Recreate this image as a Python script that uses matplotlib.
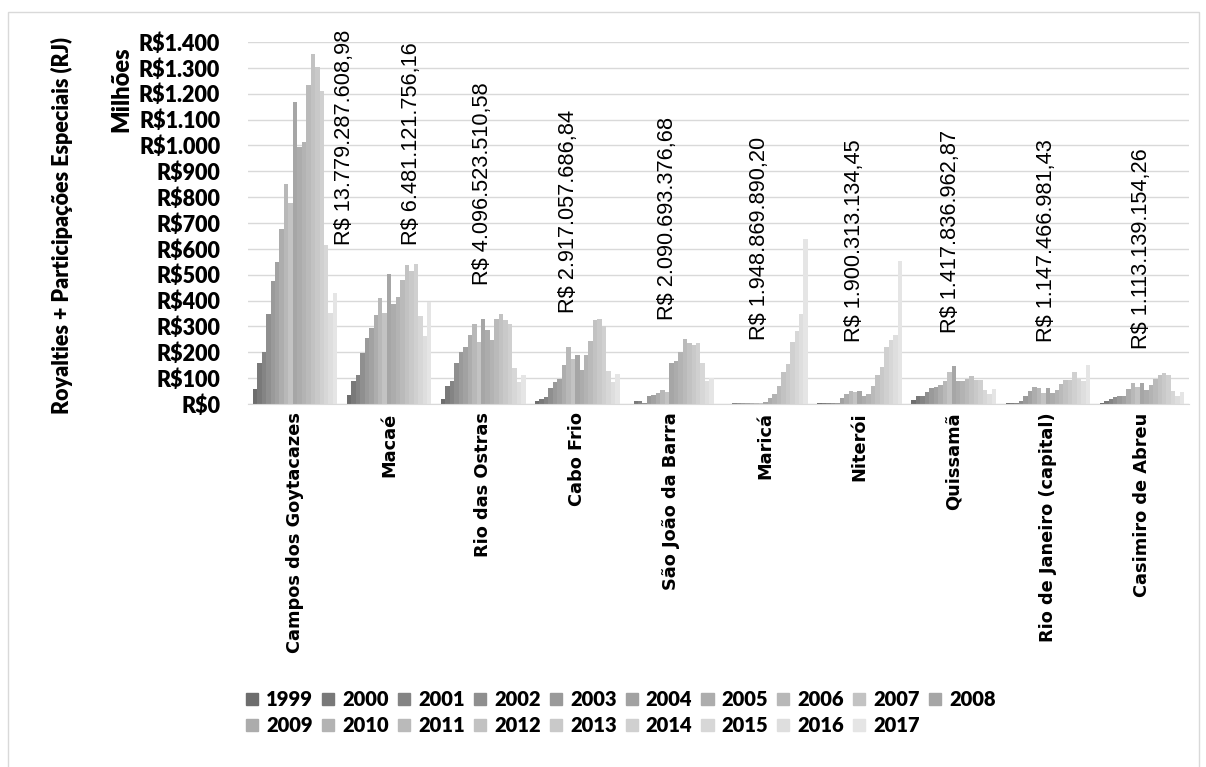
import matplotlib.pyplot as plt
import numpy as np
from matplotlib.patches import Patch, Rectangle

# Royalties + participações especiais por município (R$ milhões)
municipios = ['Campos dos Goytacazes', 'Macaé', 'Rio das Ostras', 'Cabo Frio',
              'São João da Barra', 'Maricá', 'Niterói', 'Quissamã',
              'Rio de Janeiro (capital)', 'Casimiro de Abreu']
anos = [str(a) for a in range(1999, 2018)]

campos = [57, 157, 200, 347, 475, 548, 677, 852, 779, 1169, 994, 1015, 1235, 1355, 1302, 1209, 615, 352, 428]
macae = [36, 90, 114, 196, 257, 292, 346, 409, 352, 502, 387, 412, 480, 538, 516, 542, 342, 263, 396]
rio_ostras = [19, 70, 89, 157, 201, 221, 266, 311, 240, 329, 285, 249, 329, 348, 325, 310, 138, 85, 111]
cabo_frio = [10, 21, 28, 62, 85, 98, 152, 219, 174, 188, 133, 188, 245, 323, 329, 302, 128, 84, 116]
sao_joao = [1, 12, 13, 2, 31, 36, 41, 53, 46, 160, 166, 203, 252, 234, 228, 236, 159, 89, 102]
marica = [1, 1, 2, 2, 2, 3, 3, 4, 5, 7, 22, 39, 71, 125, 154, 240, 284, 347, 637]
niteroi = [2, 3, 3, 3, 4, 22, 39, 49, 48, 49, 31, 39, 68, 111, 143, 219, 248, 267, 552]
quissama = [15, 31, 32, 48, 62, 67, 72, 90, 124, 147, 90, 90, 97, 108, 93, 93, 53, 39, 57]
rio_capital = [3, 3, 4, 12, 32, 49, 65, 63, 44, 62, 44, 55, 76, 92, 92, 122, 95, 88, 150]
casimiro = [5, 10, 18, 27, 30, 30, 57, 83, 67, 80, 54, 72, 95, 114, 120, 111, 49, 32, 48]

totais = ['R$ 13.779.287.608,98', 'R$ 6.481.121.756,16', 'R$ 4.096.523.510,58',
          'R$ 2.917.057.686,84', 'R$ 2.090.693.376,68', 'R$ 1.948.869.890,20',
          'R$ 1.900.313.134,45', 'R$ 1.417.836.962,87', 'R$ 1.147.466.981,43',
          'R$ 1.113.139.154,26']

valores = np.array([campos, macae, rio_ostras, cabo_frio, sao_joao,
                    marica, niteroi, quissama, rio_capital, casimiro])

# posição dos rótulos de total (deslocamento em x, base em y)
rot_dx = [0.53, 0.24, -0.01, -0.09, -0.04, -0.06, -0.05, -0.03, -0.01, 0.0]
rot_y = [615, 615, 460, 352, 325, 247, 240, 275, 240, 213]

cores = ['#6d6d6d', '#797979', '#848484', '#8f8f8f', '#9a9a9a', '#a2a2a2',
         '#adadad', '#b8b8b8', '#c3c3c3', '#a6a6a6', '#acacac', '#b3b3b3',
         '#bababa', '#c2c2c2', '#c9c9c9', '#d0d0d0', '#d7d7d7', '#dedede', '#e5e5e5']

fig = plt.figure(figsize=(12.06, 7.67), dpi=100)
ax = fig.add_axes([248 / 1206, 1 - 404 / 767, 941 / 1206, 362 / 767])

# moldura da área do gráfico
fig.patches.append(Rectangle((8 / 1206, -0.02), 1191 / 1206, 1 - 12 / 767 + 0.02,
                             transform=fig.transFigure, fill=False,
                             edgecolor='#d9d9d9', linewidth=1))

x = np.arange(len(municipios))
n = len(anos)
w = 0.9 / n
for j in range(n):
    ax.bar(x - 0.45 + w * (j + 0.5), valores[:, j], width=w, color=cores[j],
           linewidth=0, zorder=2)

for i, txt in enumerate(totais):
    ax.text(x[i] + rot_dx[i], rot_y[i], txt, rotation=90, ha='center', va='bottom',
            family='Liberation Sans', fontsize=15.7, zorder=3)

ax.set_xlim(-0.5, len(municipios) - 0.5)
ax.set_ylim(0, 1400)
ax.set_yticks(np.arange(0, 1401, 100))
ax.set_yticklabels(['R$' + f'{v:,}'.replace(',', '.') for v in range(0, 1401, 100)],
                   family='Lato', fontweight='heavy', fontsize=15.5)
ax.set_xticks(x)
ax.set_xticklabels(municipios, rotation=90, family='DejaVu Sans',
                   fontweight='bold', fontsize=12.8, va='top')
ax.tick_params(length=0)
ax.tick_params(axis='x', pad=6)
ax.tick_params(axis='y', pad=20)
ax.grid(axis='y', color='#d9d9d9', linewidth=1, zorder=0)
for s in ['top', 'right', 'left']:
    ax.spines[s].set_visible(False)
ax.spines['bottom'].set_color('#d9d9d9')

fig.text(62 / 1206, 1 - 226 / 767, 'Royalties + Participações Especiais (RJ)',
         rotation=90, ha='center', va='center', family='Lato',
         fontweight='heavy', fontsize=15.5)
fig.text(121 / 1206, 1 - 89 / 767, 'Milhões', rotation=90, ha='center',
         va='center', family='Lato', fontweight='heavy', fontsize=17)

# legenda em duas linhas, ordenada por linha
alcas = [Patch(color=c) for c in cores]
ordem = []
for j in range(9):
    ordem += [j, j + 10]
ordem.append(9)
ax.legend([alcas[k] for k in ordem], [anos[k] for k in ordem], ncol=10,
          loc='upper left', bbox_to_anchor=(246 / 1206, 1 - 690 / 767),
          bbox_transform=fig.transFigure, frameon=False,
          prop={'family': 'Lato', 'weight': 'heavy', 'size': 14.5},
          handlelength=0.6, handleheight=0.6, handletextpad=0.4,
          columnspacing=0.45, labelspacing=0.35, borderaxespad=0, borderpad=0)

fig.savefig('out.png', dpi=100)
